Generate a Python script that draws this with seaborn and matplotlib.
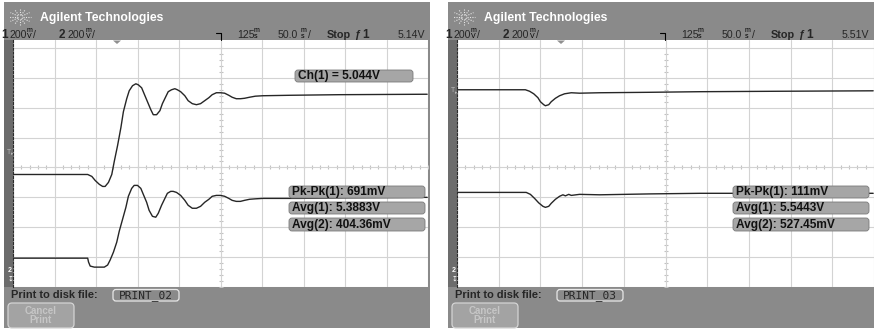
import numpy as np
import pandas as pd
import matplotlib
matplotlib.use("Agg")
import matplotlib.pyplot as plt
from matplotlib.patches import Rectangle, FancyBboxPatch, Polygon
import seaborn as sns

# two scope captures, time in us from trigger point,
# traces in mV from the screen centre line (200 mV/div on both channels)
cap1_ch1_t = [-250, -160, -155, -151, -146, -142, -139, -135, -131, -128, -124, -120, -117, -113, -110, -106,
              -102, -99, -95, -92, -88, -84, -81, -77, -73, -70, -66, -63, -59, -55, -52, -48, -43, -39, -34,
              -29, -24, -19, -14, -10, -5, 0, 5, 10, 14, 19, 24, 29, 35, 42, 51, 83, 143, 249]
cap1_ch1_v = [-47, -47, -60, -87, -113, -127, -127, -100, -47, 40, 147, 267, 373, 460, 513, 547,
              560, 553, 533, 493, 440, 387, 353, 353, 380, 427, 473, 507, 520, 527, 520, 507, 480, 447, 427,
              420, 427, 447, 467, 487, 500, 500, 497, 483, 470, 460, 460, 463, 470, 477, 480, 483, 487, 490]
cap1_ch2_t = [-250, -160, -159, -157, -152, -146, -140, -136, -133, -129, -125, -122, -118, -114, -111, -107,
              -104, -100, -96, -93, -89, -86, -82, -78, -75, -71, -67, -64, -60, -57, -53, -48, -43, -39, -34,
              -29, -24, -19, -14, -10, -5, 0, 5, 10, 14, 19, 24, 29, 35, 42, 51, 95, 155, 249]
cap1_ch2_v = [-607, -607, -633, -660, -667, -667, -667, -653, -620, -567, -500, -427, -347, -267, -193, -140,
              -120, -120, -140, -180, -233, -287, -327, -333, -307, -253, -207, -173, -160, -160, -167, -187,
              -220, -253, -273, -273, -260, -233, -213, -193, -187, -187, -193, -207, -220, -227, -227, -220,
              -213, -210, -207, -207, -203, -200]

cap2_ch1_t = [-250, -168, -163, -158, -153, -150, -146, -144, -140, -137, -132, -127, -121, -113, -103, -79,
              -19, 41, 137, 249]
cap2_ch1_v = [520, 520, 510, 493, 467, 440, 420, 413, 420, 440, 463, 480, 493, 500, 497, 500,
              503, 507, 510, 513]
cap2_ch2_t = [-250, -167, -162, -157, -152, -147, -144, -140, -137, -132, -127, -123, -120, -116, -113, -103,
              -79, -19, 41, 113, 249]
cap2_ch2_v = [-167, -167, -180, -207, -237, -260, -267, -260, -240, -213, -193, -183, -190, -180, -187, -180,
              -183, -177, -173, -173, -173]

cap1_meas = ["Pk-Pk(1): 691mV", "Avg(1): 5.3883V", "Avg(2): 404.36mV"]
cap2_meas = ["Pk-Pk(1): 111mV", "Avg(1): 5.5443V", "Avg(2): 527.45mV"]
cap1_cursor = "Ch(1) = 5.044V"
trig_levels = ["5.14V", "5.51V"]
file_names = ["PRINT_02", "PRINT_03"]
volts_div = "200"
delay = "125"
time_div = "50.0"

W, H = 874, 330
GRAY = "#8a8a8a"
TRACE = "#262626"

sns.set_style("white")
plt.rcParams["font.family"] = ["Liberation Sans", "DejaVu Sans"]

fig = plt.figure(figsize=(W / 100, H / 100), dpi=100)
fig.patch.set_facecolor("white")

bg = fig.add_axes([0, 0, 1, 1], zorder=0)
bg.set_xlim(0, W)
bg.set_ylim(H, 0)
bg.axis("off")

fg = fig.add_axes([0, 0, 1, 1], zorder=3)
fg.set_xlim(0, W)
fg.set_ylim(H, 0)
fg.axis("off")
fg.patch.set_alpha(0)


def units(x, top, bot):
    fg.text(x, 31, top, fontsize=5, color="black", ha="left", va="center")
    fg.text(x, 37, bot, fontsize=5, color="black", ha="left", va="center")


def draw_panel(dx, right, ch1_t, ch1_v, ch2_t, ch2_v, meas, trig, fname, cursor, tmark_y):
    # frame
    bg.add_patch(Rectangle((4 + dx, 2), right - 4 - dx, 326, color=GRAY, lw=0))
    bg.add_patch(Rectangle((4 + dx, 40), 9, 247, color="#6c6c6c", lw=0))

    # logo
    cx, cy = 20 + dx, 17
    for a in np.arange(0, 360, 30):
        r = np.radians(a)
        bg.plot([cx + 2.5 * np.cos(r), cx + 11 * np.cos(r)], [cy + 2.5 * np.sin(r) * 0.8, cy + 11 * np.sin(r) * 0.8],
                ls=(0, (1, 1.2)), color="#e6e6e6", lw=0.8)
    fg.text(40 + dx, 18, "Agilent Technologies", color="white", fontsize=8.8, weight="bold", va="center")

    # status line
    fg.text(1 + dx, 34.5, "1", fontsize=8.5, weight="bold", va="center")
    fg.text(9 + dx, 34.5, volts_div, fontsize=7.6, va="center")
    units(27 + dx, "m", "V")
    fg.text(33 + dx, 34.5, "/", fontsize=7.6, va="center")
    fg.text(59 + dx, 34.5, "2", fontsize=8.5, weight="bold", va="center")
    fg.text(68 + dx, 34.5, volts_div, fontsize=7.6, va="center")
    units(86 + dx, "m", "V")
    fg.text(92 + dx, 34.5, "/", fontsize=7.6, va="center")
    fg.plot([216 + dx, 221 + dx, 221 + dx], [33, 33, 40], color="black", lw=0.8)
    fg.text(237 + dx, 34.5, delay, fontsize=7.6, va="center")
    units(254 + dx, "m", "s")
    fg.text(278 + dx, 34.5, time_div, fontsize=7.6, va="center")
    units(301 + dx, "m", "s")
    fg.text(308 + dx, 34.5, "/", fontsize=7.6, va="center")
    fg.text(327 + dx, 34.5, "Stop", fontsize=7.8, weight="bold", va="center")
    fg.text(354 + dx, 34.5, "ƒ", fontsize=7.8, weight="bold", va="center")
    fg.text(362 + dx, 34.5, "1", fontsize=8.5, weight="bold", va="center")
    fg.text(right - 5, 34.5, trig, fontsize=7.6, va="center", ha="right")

    # screen
    x0 = 13 + dx
    x1 = right - 2 if dx == 0 else right
    ax = fig.add_axes([x0 / W, (H - 287) / H, (x1 - x0) / W, 247 / H], zorder=1)
    ax.set_facecolor("white")
    sns.lineplot(x=ch1_t, y=ch1_v, ax=ax, color=TRACE, lw=1.0, estimator=None, sort=False)
    sns.lineplot(x=ch2_t, y=ch2_v, ax=ax, color=TRACE, lw=1.0, estimator=None, sort=False)
    ax.set_xlim(-250, 250)
    ax.set_ylim(-793, 853)
    ax.set_xticks(np.arange(-250, 251, 50))
    ax.set_yticks(np.arange(-800, 801, 200))
    ax.grid(True, color="#d3d3d3", lw=0.8)
    ax.set_axisbelow(True)
    ax.tick_params(length=0, labelbottom=False, labelleft=False)
    ax.set_xlabel("")
    ax.set_ylabel("")
    mt = np.arange(-250, 251, 10)
    ax.plot(mt, np.zeros_like(mt), ls="none", marker="|", ms=3, color="#c2c2c2", mew=0.8, zorder=0.5)
    mv = np.arange(-800, 801, 40)
    ax.plot(np.zeros_like(mv), mv, ls="none", marker="_", ms=3, color="#c2c2c2", mew=0.8, zorder=0.5)
    for s in ["top", "right", "bottom"]:
        ax.spines[s].set_visible(False)
    ax.spines["left"].set_linestyle((0, (2, 1.5)))
    ax.spines["left"].set_color("#2a2a2a")
    ax.spines["left"].set_linewidth(0.8)

    # screen markers
    fg.add_patch(Polygon([[113 + dx, 40.5], [121 + dx, 40.5], [117 + dx, 44]], color="#8f8f8f", lw=0))
    fg.text(7 + dx, tmark_y, "T", fontsize=5, color="#b8b8b8", va="center", ha="left")
    fg.text(11 + dx, tmark_y + 2, "▸", fontsize=3.5, color="#b8b8b8", va="center", ha="left")
    fg.text(7.5 + dx, 271, "2", fontsize=5, color="white", va="center", ha="left", weight="bold")
    fg.text(7.5 + dx, 279, "↧", fontsize=5, color="white", va="center", ha="left")

    # measurement readouts
    bx = right - 141
    for (y0, y1), label in zip([(186, 198), (202, 214), (218, 231)], meas):
        fg.add_patch(FancyBboxPatch((bx, y0), 136, y1 - y0, boxstyle="round,pad=0,rounding_size=3",
                                    fc="#a6a6a6", ec="#7a7a7a", lw=0.6))
        fg.text(bx + 3, (y0 + y1) / 2 + 0.3, label, fontsize=8.6, weight="bold", va="center", color="#111111")
    if cursor:
        fg.add_patch(FancyBboxPatch((295 + dx, 70), 118, 12, boxstyle="round,pad=0,rounding_size=3",
                                    fc="#a6a6a6", ec="#7a7a7a", lw=0.6))
        fg.text(298 + dx, 76.3, cursor, fontsize=8.6, weight="bold", va="center", color="#111111")

    # bottom soft key area
    fg.text(11 + dx, 295, "Print to disk file:", fontsize=7.9, weight="bold", va="center")
    fg.add_patch(FancyBboxPatch((113 + dx, 289.5), 66, 11.5, boxstyle="round,pad=0,rounding_size=3",
                                fc=GRAY, ec="#e8e8e8", lw=0.9))
    fg.text(146 + dx, 295.5, fname, fontsize=8, va="center", ha="center", family="DejaVu Sans Mono")
    fg.add_patch(FancyBboxPatch((8 + dx, 303), 66, 25, boxstyle="round,pad=0,rounding_size=4",
                                fc="#a3a3a3", ec="#d4d4d4", lw=0.9))
    fg.text(41 + dx, 315.5, "Cancel\nPrint", fontsize=7, weight="bold", va="center", ha="center",
            color="#c6c6c6", linespacing=0.95)


draw_panel(0, 430, cap1_ch1_t, cap1_ch1_v, cap1_ch2_t, cap1_ch2_v, cap1_meas, trig_levels[0], file_names[0],
           cap1_cursor, 152)
draw_panel(444, 874, cap2_ch1_t, cap2_ch1_v, cap2_ch2_t, cap2_ch2_v, cap2_meas, trig_levels[1], file_names[1],
           None, 91)

fig.savefig("out.png", dpi=100)
